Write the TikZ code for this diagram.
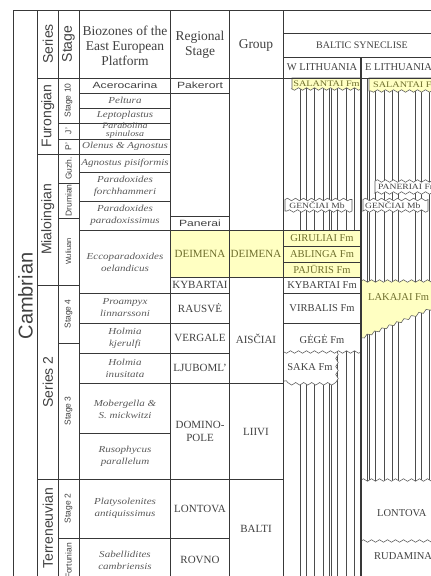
\documentclass[tikz,border=0pt]{standalone}
\usepackage{fontspec}
\setmainfont{Liberation Serif}
\setsansfont{Liberation Sans}
\newfontfamily\bodyrm{Liberation Serif}[FakeStretch=1.2]
\newfontfamily\bodysf{Liberation Sans}[FakeStretch=1.35]
\usetikzlibrary{decorations.pathmorphing}

\definecolor{fmyellow}{HTML}{FFFFC2}
\definecolor{fmolive}{HTML}{6E6E2C}
\definecolor{linegray}{HTML}{383838}
\definecolor{txtgray}{HTML}{404040}

\tikzset{
  tabline/.style={draw=linegray, line width=0.75pt},
  hatch/.style={draw=black!70, line width=0.5pt, double=white, double distance=1.1pt},
  wdec/.style={decoration={snake, segment length=8pt, amplitude=1.3pt}},
  wline/.style={draw=black!65, line width=0.55pt, decorate, wdec},
  headtext/.style={font=\fontsize{13.5}{15}\selectfont, align=center, text=txtgray},
  rot/.style={rotate=90, font=\sffamily\fontsize{14}{16}\selectfont, text=txtgray},
  stg/.style={rotate=90, font=\sffamily\fontsize{8.5}{10}\selectfont, text=txtgray, inner sep=0pt},
  bz/.style={font=\bodyrm\itshape\fontsize{9.2}{12}\selectfont, align=center, text=black!65, inner sep=0pt},
  bzsans/.style={font=\bodysf\fontsize{9}{11}\selectfont, text=txtgray, inner sep=0pt},
  reg/.style={font=\fontsize{11}{13}\selectfont, align=center, text=txtgray, inner sep=0pt},
  fm/.style={font=\fontsize{10.5}{12}\selectfont, text=txtgray, inner sep=0pt},
  fmy/.style={fm, text=fmolive},
  mb/.style={font=\bodyrm\fontsize{8}{9}\selectfont, text=txtgray, inner sep=0pt},
}

\begin{document}
\begin{tikzpicture}[x=1pt,y=-1pt]
\useasboundingbox (0,0) rectangle (431,576);
\clip (0,0) rectangle (431,576);

\fill[fmyellow] (170.5,230) rectangle (361,277);

\foreach \k in {0,...,8}
  \draw[hatch] ({292+7.7*\k},78) -- ({292+7.7*\k},590);
\foreach \k in {0,...,9}
  \draw[hatch] ({368.5+7.7*\k},78) -- ({368.5+7.7*\k},590);

% W Lithuania
\filldraw[fill=fmyellow, draw=black!65, line width=0.55pt] (292,78) -- (361,78) -- (361,89) decorate[wdec]{-- (292,89)} -- cycle;
\filldraw[fill=white, draw=black!65, line width=0.55pt] (285,199.5) decorate[wdec]{-- (352,199.5)} -- (352,211) decorate[wdec]{-- (285,211)} -- cycle;
\fill[fmyellow] (283,230) rectangle (361,277);
\fill[white] (283,349) -- (337,349) -- (337,352) decorate[wdec]{-- (337,381) -- (283,381)} -- cycle;
\fill[white] (283,277) -- (361,277) -- (361,352) decorate[wdec]{-- (283,352)} -- cycle;
\draw[wline] (361,352) -- (283,352);
\draw[wline] (337,352) -- (337,381) -- (283,381);

% E Lithuania
\filldraw[fill=fmyellow, draw=black!65, line width=0.55pt] (369,78) -- (440,78) -- (440,91) decorate[wdec]{-- (369,91)} -- cycle;
\filldraw[fill=white, draw=black!65, line width=0.55pt] (375,181) decorate[wdec]{-- (440,181)} -- (440,193) decorate[wdec]{-- (375,193)} -- cycle;
\filldraw[fill=white, draw=black!65, line width=0.55pt] (363,199.5) decorate[wdec]{-- (428,199.5)} -- (428,211) decorate[wdec]{-- (363,211)} -- cycle;
\filldraw[fill=fmyellow, draw=black!65, line width=0.55pt] (361,281) decorate[wdec]{-- (440,281)} -- (440,305) decorate[wdec]{-- (361,338)} -- cycle;
\fill[white] (361,480) decorate[wdec]{-- (440,480)} -- (440,590) -- (361,590) -- cycle;
\draw[wline] (361,480) -- (440,480);
\draw[wline] (361,541) -- (440,541);

% table
\draw[tabline] (13,10) -- (440,10);
\foreach \vx in {13,37.5,58,79,170.5,229,283}
  \draw[tabline] (\vx,10) -- (\vx,590);
\draw[tabline, line width=1.3pt] (361,57) -- (361,590);
\draw[tabline] (283,33) -- (440,33);
\draw[tabline] (283,57) -- (440,57);
\draw[tabline] (37.5,78) -- (440,78);
\draw[tabline] (37.5,154) -- (170.5,154);
\draw[tabline] (37.5,285) -- (79,285);
\draw[tabline] (37.5,479) -- (283,479);
\draw[tabline] (58,538) -- (229,538);
\draw[tabline] (58,123) -- (170.5,123);
\draw[tabline] (58,139) -- (170.5,139);
\draw[tabline] (58,183) -- (79,183);
\draw[tabline] (58,218) -- (79,218);
\draw[tabline] (58,343) -- (79,343);
\draw[tabline] (79,93) -- (229,93);
\draw[tabline] (79,108) -- (170.5,108);
\draw[tabline] (79,172) -- (170.5,172);
\draw[tabline] (79,201) -- (170.5,201);
\draw[tabline] (79,230) -- (361,230);
\draw[tabline] (79,293) -- (229,293);
\draw[tabline] (283,293) -- (361,293);
\draw[tabline] (79,323) -- (229,323);
\draw[tabline] (283,323) -- (361,323);
\draw[tabline] (79,353) -- (229,353);
\draw[tabline] (79,383) -- (283,383);
\draw[tabline] (79,433) -- (170.5,433);
\draw[tabline] (170.5,216) -- (229,216);
\draw[tabline] (170.5,277) -- (361,277);
\draw[tabline] (283,246) -- (361,246);
\draw[tabline] (283,262) -- (361,262);

% header
\node[rot] (serieshead) at (47.75,44) {Series};
\node[rot] (stagehead) at (68.5,44) {Stage};
\node[headtext] (biohead) at (125,46) {Biozones of the\\East European\\Platform};
\node[headtext] (reghead) at (200,45) {Regional\\Stage};
\node[headtext] (grouphead) at (256,45) {Group};
\node[fm, font=\fontsize{10}{12}\selectfont] (baltic) at (362,45) {BALTIC SYNECLISE};
\node[fm] (wlith) at (322,67.5) {W LITHUANIA};
\node[fm, anchor=west] (elith) at (365,67.5) {E LITHUANIA};

% series and stages
\node[rot, font=\sffamily\fontsize{20}{22}\selectfont] (cambrian) at (25.5,296) {Cambrian};
\node[rot] (furongian) at (47.75,116) {Furongian};
\node[rot] (miaoling) at (47.75,219.5) {Mialoingian};
\node[rot] (seriestwo) at (47.75,382) {Series 2};
\node[rot] (terreneuv) at (47.75,528) {Terreneuvian};
\node[stg] (stageten) at (68.5,100.5) {Stage 10};
\node[stg] (jiang) at (68.5,131) {J'};
\node[stg] (paib) at (68.5,146.5) {P'};
\node[stg] (guzh) at (68.5,168.5) {Guzh.};
\node[stg] (drum) at (68.5,200.5) {Drumian};
\node[stg, font=\sffamily\fontsize{7.5}{9}\selectfont] (wuliu) at (68.5,251.5) {Wuliuan};
\node[stg] (stagefour) at (68.5,314) {Stage 4};
\node[stg] (stagethree) at (68.5,411) {Stage 3};
\node[stg] (stagetwo) at (68.5,508.5) {Stage 2};
\node[stg] (fortun) at (68.5,561) {Fortunian};

% biozones
\node[bzsans] (acero) at (125,85.5) {Acerocarina};
\node[bz] (peltura) at (125,100.5) {Peltura};
\node[bz] (lepto) at (125,115.5) {Leptoplastus};
\node[bz, font=\bodyrm\itshape\fontsize{8.3}{8}\selectfont] (parab) at (125,131) {Parabolina\\spinulosa};
\node[bz] (olenus) at (125,146.5) {Olenus \& Agnostus};
\node[bz] (agnost) at (125,163) {Agnostus pisiformis};
\node[bz] (forch) at (125,186.5) {Paradoxides\\forchhammeri};
\node[bz] (paradox) at (125,215.5) {Paradoxides\\paradoxissimus};
\node[bz] (eccopar) at (125,262) {Eccoparadoxides\\oelandicus};
\node[bz] (proamp) at (125,308) {Proampyx\\linnarssoni};
\node[bz] (holkje) at (125,338) {Holmia\\kjerulfi};
\node[bz] (holinu) at (125,368) {Holmia\\inusitata};
\node[bz] (moberg) at (125,409) {Mobergella \&\\S. mickwitzi};
\node[bz] (rusoph) at (125,456) {Rusophycus\\parallelum};
\node[bz] (platys) at (125,508) {Platysolenites\\antiquissimus};
\node[bz] (sabell) at (125,560) {Sabellidites\\cambriensis};

% regional stages
\node[bzsans] (pakerort) at (200,85.5) {Pakerort};
\node[bzsans] (panerai) at (200,223) {Panerai};
\node[reg, text=fmolive] (deimreg) at (200,253.5) {DEIMENA};
\node[reg] (kybreg) at (200,285) {KYBARTAI};
\node[reg] (rausve) at (200,308) {RAUSVĖ};
\node[reg] (vergale) at (200,338) {VERGALE};
\node[reg] (ljuboml) at (200,368) {LJUBOML'};
\node[reg] (dominopole) at (200,431) {DOMINO-\\POLE};
\node[reg] (lontreg) at (200,509) {LONTOVA};
\node[reg] (rovno) at (200,560) {ROVNO};

% groups
\node[reg, text=fmolive] (deimgrp) at (256,253.5) {DEIMENA};
\node[reg] (aisciai) at (256,339) {AISČIAI};
\node[reg] (liivi) at (256,432) {LIIVI};
\node[reg] (balti) at (256,529) {BALTI};

% formations
\node[mb, text=fmolive, font=\bodyrm\fontsize{8.5}{9}\selectfont] (salw) at (326.5,84) {SALANTAI Fm};
\node[mb] (gencw) at (317,205.5) {GENČIAI Mb};
\node[fmy] (girul) at (322,238) {GIRULIAI Fm};
\node[fmy] (abling) at (322,254) {ABLINGA Fm};
\node[fmy] (pajur) at (322,269.5) {PAJŪRIS Fm};
\node[fm] (kybfm) at (322,285) {KYBARTAI Fm};
\node[fm] (virb) at (322,308) {VIRBALIS Fm};
\node[fm] (gege) at (322,339) {GĖGĖ Fm};
\node[fm] (saka) at (310,367) {SAKA Fm};
\node[mb, text=fmolive, font=\bodyrm\fontsize{8.5}{9}\selectfont, anchor=west] (sale) at (373,84.5) {SALANTAI Fm};
\node[mb, anchor=west] (paner) at (378,187) {PANERIAI Fm};
\node[mb, anchor=west] (gence) at (365,205.5) {GENČIAI Mb};
\node[fmy, anchor=west] (lakajai) at (368,297) {LAKAJAI Fm};
\node[fm, anchor=west] (lonte) at (377,513) {LONTOVA};
\node[fm, anchor=west] (rudam) at (374,556) {RUDAMINA};
\end{tikzpicture}
\end{document}
